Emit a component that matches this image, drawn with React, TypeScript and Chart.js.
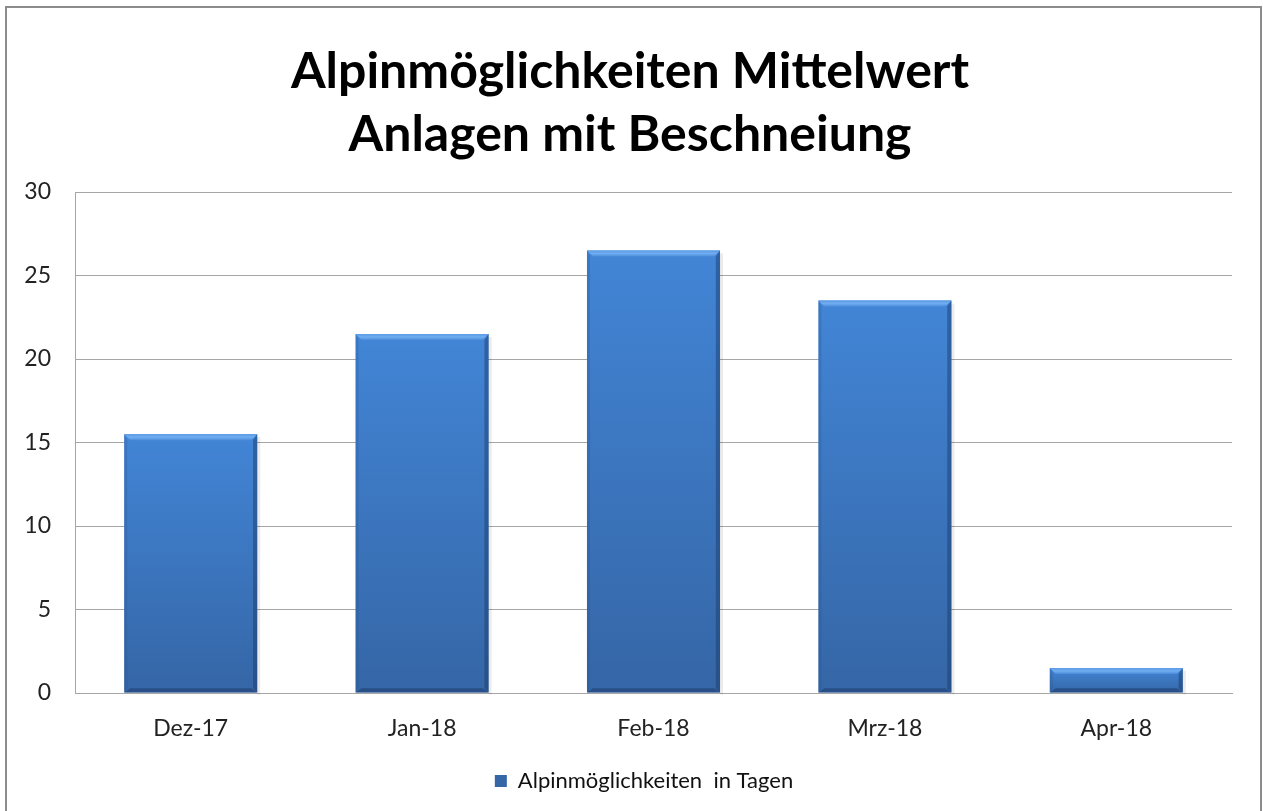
import React, { useEffect, useRef } from "react";
import { Chart, registerables } from "chart.js";

Chart.register(...registerables);

const categories = ["Dez-17", "Jan-18", "Feb-18", "Mrz-18", "Apr-18"];
const values = [15.5, 21.5, 26.5, 23.5, 1.5];
const seriesLabel = "Alpinmöglichkeiten  in Tagen";
const titleLines = ["Alpinmöglichkeiten Mittelwert", "Anlagen mit Beschneiung"];
const yMin = 0;
const yMax = 30;
const yStep = 5;

const FONT = "Lato, 'Open Sans', sans-serif";

const borderPlugin = {
  id: "outerBorder",
  beforeDraw(chart: any) {
    const { ctx } = chart;
    ctx.save();
    ctx.fillStyle = "#ffffff";
    ctx.fillRect(0, 0, chart.width, chart.height);
    ctx.strokeStyle = "#8c8c8c";
    ctx.lineWidth = 2;
    ctx.strokeRect(6, 7, chart.width - 8, chart.height + 50);
    ctx.restore();
  },
};

const shiftPlugin = {
  id: "blockShift",
  afterLayout(chart: any) {
    const lg = chart.legend;
    if (lg) {
      lg.left += 25;
      lg.right += 25;
    }
    const tb = chart.titleBlock;
    if (tb) {
      tb.left += 11;
      tb.right += 11;
    }
  },
};

const bevelPlugin = {
  id: "bevel",
  afterDatasetsDraw(chart: any) {
    const { ctx } = chart;
    const meta = chart.getDatasetMeta(0);
    meta.data.forEach((bar: any) => {
      const { x, y, base, width } = bar.getProps(["x", "y", "base", "width"], true);
      const l = x - width / 2;
      const r = x + width / 2;
      const t = Math.min(y, base);
      const b = Math.max(y, base);
      const h = b - t;
      const bv = Math.min(6, h / 3);
      ctx.save();
      const gt = ctx.createLinearGradient(0, t, 0, t + bv);
      gt.addColorStop(0, "#5a9be6");
      gt.addColorStop(0.5, "#70adf0");
      gt.addColorStop(1, "#4d8cdb");
      ctx.fillStyle = gt;
      ctx.beginPath();
      ctx.moveTo(l, t);
      ctx.lineTo(r, t);
      ctx.lineTo(r - bv, t + bv);
      ctx.lineTo(l + bv, t + bv);
      ctx.closePath();
      ctx.fill();
      ctx.fillStyle = "rgba(30,60,110,0.55)";
      ctx.beginPath();
      ctx.moveTo(l, b);
      ctx.lineTo(r, b);
      ctx.lineTo(r - bv, b - bv * 0.7);
      ctx.lineTo(l + bv, b - bv * 0.7);
      ctx.closePath();
      ctx.fill();
      ctx.fillStyle = "rgba(25,55,100,0.45)";
      ctx.beginPath();
      ctx.moveTo(r, t);
      ctx.lineTo(r, b);
      ctx.lineTo(r - bv * 0.7, b - bv * 0.7);
      ctx.lineTo(r - bv * 0.7, t + bv);
      ctx.closePath();
      ctx.fill();
      ctx.fillStyle = "rgba(40,80,140,0.25)";
      ctx.beginPath();
      ctx.moveTo(l, t);
      ctx.lineTo(l, b);
      ctx.lineTo(l + bv * 0.5, b - bv * 0.7);
      ctx.lineTo(l + bv * 0.5, t + bv);
      ctx.closePath();
      ctx.fill();
      ctx.fillStyle = "rgba(0,0,0,0.08)";
      ctx.fillRect(r, t + 3, 3, h - 1);
      ctx.restore();
    });
  },
};

export default function App() {
  const ref = useRef<HTMLCanvasElement | null>(null);

  useEffect(() => {
    const canvas = ref.current;
    if (!canvas) return;
    const chart = new Chart(canvas, {
      type: "bar",
      data: {
        labels: categories,
        datasets: [
          {
            label: seriesLabel,
            data: values,
            borderWidth: 0,
            categoryPercentage: 1,
            barPercentage: 0.575,
            backgroundColor: (c: any) => {
              const ch = c.chart;
              const ys = ch.scales && ch.scales.y;
              if (!ys || c.type !== "data" || ys.top === undefined) return "#3d79c6";
              const top = ys.getPixelForValue(c.raw);
              const bot = ys.getPixelForValue(0);
              if (!isFinite(top) || !isFinite(bot) || top === bot) return "#3d79c6";
              const g = ch.ctx.createLinearGradient(0, top, 0, bot);
              g.addColorStop(0, "#4285d6");
              g.addColorStop(1, "#3566a6");
              return g;
            },
          },
        ],
      },
      options: {
        animation: false,
        responsive: false,
        layout: { padding: { top: 0, left: 6, right: 31, bottom: 9 } },
        plugins: {
          title: {
            display: true,
            text: titleLines,
            color: "#000000",
            font: { family: FONT, size: 50, weight: "bold", lineHeight: 1.26 },
            padding: { top: 40, bottom: 26 },
          },
          legend: {
            position: "bottom",
            labels: {
              color: "#111111",
              font: { family: FONT, size: 22 },
              boxWidth: 12,
              boxHeight: 12,
              padding: 10,
            },
          },
          tooltip: { enabled: false },
        },
        scales: {
          x: {
            grid: { display: false, drawTicks: false },
            border: { display: true, color: "#a6a6a6", width: 1 },
            ticks: { color: "#222222", font: { family: FONT, size: 23 }, padding: 22 },
            afterFit: (s: any) => {
              s.height = 67;
            },
          },
          y: {
            min: yMin,
            max: yMax,
            grid: { color: "#a6a6a6", drawTicks: false, lineWidth: 1 },
            border: { display: true, color: "#a6a6a6", width: 1 },
            ticks: {
              stepSize: yStep,
              color: "#222222",
              font: { family: FONT, size: 23 },
              padding: 24,
            },
            afterFit: (s: any) => {
              s.width = 69;
            },
          },
        },
      },
      plugins: [borderPlugin, shiftPlugin, bevelPlugin],
    });
    return () => chart.destroy();
  }, []);

  return (
    <div style={{ position: "absolute", left: 0, top: 0, width: 1263, height: 811 }}>
      <canvas ref={ref} width={1263} height={811} style={{ display: "block" }} />
    </div>
  );
}
